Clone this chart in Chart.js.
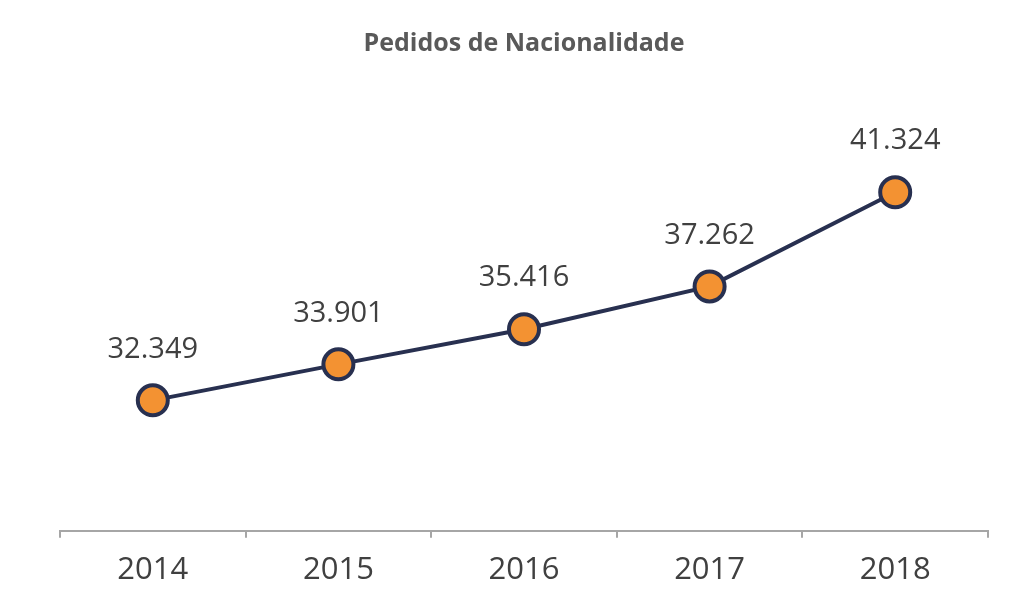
<!DOCTYPE html>
<html>
<head>
<meta charset="utf-8">
<script src="https://cdn.jsdelivr.net/npm/chart.js@4"></script>
<style>
html,body{margin:0;padding:0;background:#fff;}
#wrap{width:1024px;height:611px;}
</style>
</head>
<body>
<div id="wrap"><canvas id="c" width="1024" height="611"></canvas></div>
<script>
const years = ["2014", "2015", "2016", "2017", "2018"];
const pedidos = [32349, 33901, 35416, 37262, 41324];
const valueLabels = ["32.349", "33.901", "35.416", "37.262", "41.324"];

const labelPlugin = {
  id: 'valueLabels',
  afterDatasetsDraw(chart) {
    const ctx = chart.ctx;
    const meta = chart.getDatasetMeta(0);
    ctx.save();
    ctx.font = '29px "Open Sans", "Liberation Sans", sans-serif';
    ctx.fillStyle = '#404040';
    ctx.textAlign = 'center';
    ctx.textBaseline = 'middle';
    meta.data.forEach((pt, i) => {
      ctx.fillText(valueLabels[i], pt.x, pt.y - 51);
    });
    ctx.restore();
  }
};

new Chart(document.getElementById('c'), {
  type: 'line',
  data: {
    labels: years,
    datasets: [{
      data: pedidos,
      borderColor: '#283050',
      borderWidth: 4,
      pointBackgroundColor: '#f39232',
      pointBorderColor: '#283050',
      pointBorderWidth: 4,
      pointRadius: 15,
      pointHoverRadius: 15,
      tension: 0
    }]
  },
  options: {
    responsive: false,
    animation: false,
    layout: { padding: { left: 60, right: 36, top: 0, bottom: 8 } },
    plugins: {
      legend: { display: false },
      tooltip: { enabled: false },
      title: {
        display: true,
        text: 'Pedidos de Nacionalidade',
        color: '#595959',
        font: { family: '"Open Sans", "Liberation Sans", sans-serif', size: 25, weight: 'bold' },
        padding: { top: 29, bottom: 44 }
      }
    },
    scales: {
      x: {
        type: 'category',
        offset: true,
        grid: { offset: true, drawOnChartArea: false, drawTicks: true, tickLength: 7, color: '#a6a6a6', lineWidth: 2 },
        border: { display: true, color: '#a6a6a6', width: 2 },
        ticks: {
          color: '#404040',
          padding: 14,
          font: { family: '"Open Sans", "Liberation Sans", sans-serif', size: 31 }
        }
      },
      y: {
        display: false,
        min: 26724,
        max: 45170
      }
    }
  },
  plugins: [labelPlugin]
});
</script>
</body>
</html>
